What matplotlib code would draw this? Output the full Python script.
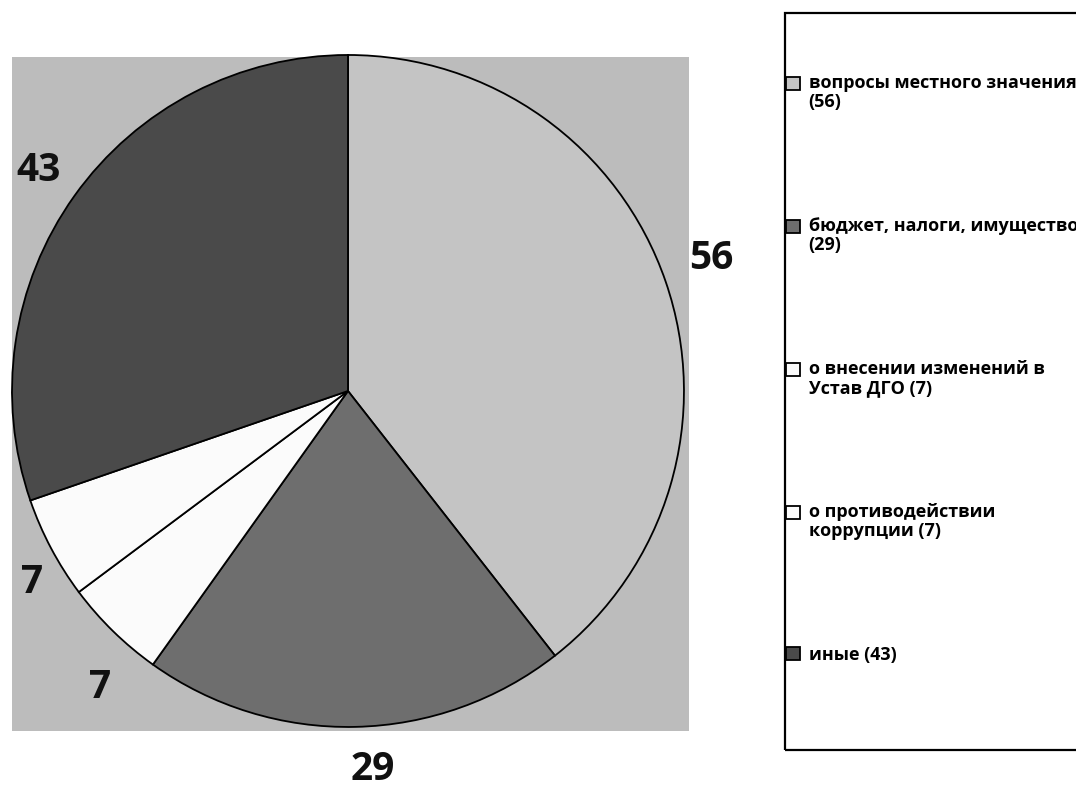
import matplotlib
matplotlib.use('Agg')
import numpy as np
import matplotlib.pyplot as plt
from matplotlib.patches import Rectangle
from matplotlib.legend_handler import HandlerPatch

plt.rcParams['font.family'] = ['Open Sans', 'DejaVu Sans']

# данные диаграммы
values = [56, 29, 7, 7, 43]
legend_labels = ['вопросы местного значения\n(56)',
                 'бюджет, налоги, имущество\n(29)',
                 'о внесении изменений в\nУстав ДГО (7)',
                 'о противодействии\nкоррупции (7)',
                 'иные (43)']
colors = ['#c4c4c4', '#6e6e6e', '#fbfbfb', '#fbfbfb', '#4a4a4a']
# расстояние подписи от центра и небольшой поворот (как в Excel "наилучшее")
label_dist = [1.15, 1.13, 1.15, 1.10, 1.13]
label_turn = [1.0, 2.5, 4.4, 3.4, 0.0]

fig = plt.figure(figsize=(10.76, 7.94), dpi=100)
W, H = 1076, 794
# серый квадрат области построения (в пикселях)
x0, y0, x1, y1 = 12, 57, 689, 731
ax = fig.add_axes([x0 / W, 1 - y1 / H, (x1 - x0) / W, (y1 - y0) / H])

wedges, _ = ax.pie(values, colors=colors, startangle=90, counterclock=False,
                   wedgeprops=dict(edgecolor='black', linewidth=1.3))
# подписи значений у каждого сектора
for w, v, d, dt in zip(wedges, values, label_dist, label_turn):
    a = np.deg2rad((w.theta1 + w.theta2) / 2 + dt)
    ax.text(d * np.cos(a), d * np.sin(a), str(v), ha='center', va='center',
            fontsize=28, fontweight='bold', color='#111111', clip_on=False)

ax.set_frame_on(True)
ax.set_facecolor('#bcbcbc')
ax.set_xlim(-1.0, 1.015)
ax.set_ylim(-1.012, 0.994)
ax.set_aspect('auto')
ax.set_xticks([])
ax.set_yticks([])
for s in ax.spines.values():
    s.set_visible(False)

# рамка легенды
fig.patches.append(Rectangle((785 / W, 1 - 750 / H), 400 / W, (750 - 13) / H,
                             transform=fig.transFigure, fill=False,
                             edgecolor='black', linewidth=1.6))


def top_box(legend, orig_handle, xdescent, ydescent, width, height, fontsize):
    # маркер на уровне первой строки подписи
    return Rectangle((-xdescent, -ydescent + 0.75 * height), width, height)


hmap = {w: HandlerPatch(patch_func=top_box) for w in wedges[:4]}
leg = fig.legend(wedges, legend_labels, loc='upper left',
                 bbox_to_anchor=(786 / W, 1 - 74 / H),
                 prop=dict(size=13, weight='bold'),
                 frameon=False, handler_map=hmap,
                 handlelength=0.75, handleheight=0.75, handletextpad=0.5,
                 labelspacing=5.85, borderpad=0, borderaxespad=0)
for t in leg.get_texts():
    t.set_linespacing(1.1)

fig.savefig('out.png', dpi=100)
